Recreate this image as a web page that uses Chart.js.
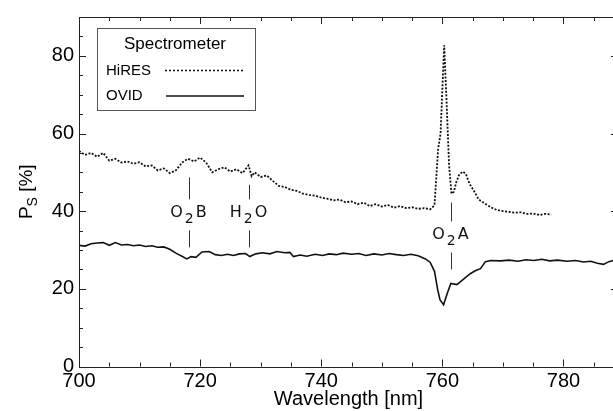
<!DOCTYPE html>
<html>
<head>
<meta charset="utf-8">
<script src="https://cdn.jsdelivr.net/npm/chart.js@4.4.1/dist/chart.umd.min.js"></script>
<style>
html, body { margin: 0; padding: 0; background: #fff; overflow: hidden; }
#wrap { width: 620px; height: 411px; }
</style>
</head>
<body>
<div id="wrap"><canvas id="chart_ps" width="620" height="411"></canvas></div>
<script>
// HiRES spectrometer (dotted)
var hiresWl = [700, 701, 702, 703, 704, 705, 706, 707, 708, 709, 710, 711, 712, 713, 714, 715, 716, 717, 718, 719,
  720, 721, 722, 723, 724, 725, 726, 727, 728, 728.5, 729, 730, 731, 732, 733, 734, 735, 736, 737, 738, 739,
  740, 741, 742, 743, 744, 745, 746, 747, 748, 749, 750, 751, 752, 753, 754, 755, 756, 757, 758, 758.7,
  759.3, 759.7, 760.3, 760.7, 761.1, 761.5, 761.9, 762.3, 762.8, 763.4, 763.9, 764.5, 765.3, 766, 767, 768,
  769, 770, 771, 772, 773, 774, 775, 776, 777, 778];
var hiresPs = [55.5, 54.5, 55, 54, 55, 53, 53.5, 52.5, 52.8, 52.2, 52.6, 51.5, 51.8, 50.5, 51, 49.8, 50.5, 52.5, 53.5, 52.8,
  53.8, 52.5, 50, 50.8, 51.3, 50.2, 50.8, 49.8, 51.8, 49, 50, 48.8, 49.2, 47.8, 46.5, 46.2, 45.5, 45.2, 44.5, 44.2, 44,
  43.5, 43.2, 42.8, 43, 42.3, 42.5, 41.8, 42.2, 41.3, 41.8, 41.2, 41.6, 40.9, 41.3, 40.8, 41, 40.6, 40.8, 40.5, 41.5,
  56, 60, 82.7, 68, 52, 44.5, 45, 47.5, 49.5, 50.2, 49.5, 47, 45, 43, 42, 41,
  40.3, 40, 39.8, 39.6, 39.7, 39.3, 39.4, 39, 39.3, 39.1];

// OVID spectrometer (solid)
var ovidWl = [700, 701, 702, 703, 704, 705, 706, 707, 708, 709, 710, 711, 712, 713, 714, 715, 716, 717, 717.8, 718.5,
  719.3, 720.3, 721.5, 722.5, 723.5, 724.5, 725.5, 726.5, 727.5, 728.2, 729.2, 730.3, 731.5, 732.7, 734, 734.8,
  735.4, 736.5, 737.6, 739, 740.2, 741.3, 742.5, 743.6, 745, 746.2, 747.4, 748.7, 750, 751.2, 752.4, 753.6,
  754.8, 756, 757.2, 758, 758.7, 759.2, 759.6, 760.2, 760.8, 761.4, 762.4, 763.5, 764.6, 765.5, 766.3, 767.1,
  768, 769.6, 771, 772.5, 773.8, 775.1, 776.4, 777.7, 779, 780.6, 782, 783.3, 784.5, 785.6, 786.6, 787.5, 788.5, 789.5];
var ovidPs = [31.2, 31, 31.6, 31.8, 31.9, 31.2, 31.9, 31.3, 31.4, 31.1, 31.3, 30.9, 31.1, 30.7, 30.8, 30.2, 29.2, 28.4, 27.7, 28.3,
  28.1, 29.5, 29.6, 28.8, 28.6, 28.9, 28.6, 29, 29.1, 28.3, 29, 29.3, 29, 29.6, 29.3, 29.4,
  28.3, 28.7, 28.4, 28.9, 28.6, 29, 28.8, 29.2, 28.9, 29.1, 28.6, 29, 28.7, 29.1, 28.8, 28.6,
  28.9, 28.5, 27.7, 26.8, 24.5, 20, 17.2, 15.9, 18.8, 21.4, 21.1, 22.5, 23.9, 24.7, 25.2, 27,
  27.3, 27.2, 27.4, 27.1, 27.5, 27.3, 27.6, 27.2, 27.4, 27.1, 27.3, 26.9, 27.1, 26.6, 26.3, 27, 27.4, 27.2];

var xTicks = [700, 720, 740, 760, 780];
var yTicks = [0, 20, 40, 60, 80];

// absorption bands: label pieces [main, subscript, tail], wavelength, top of marker (P_S %)
var bandParts = [['O', '2', 'B'], ['H', '2', 'O'], ['O', '2', 'A']];
var bandWl = [718.2, 728.1, 761.5];
var bandTop = [48.7, 46.8, 42.2];
var bandLabelY = [39.7, 39.7, 34.0];

function toPoints(xs, ys) {
  return xs.map(function (v, i) { return {x: v, y: ys[i]}; });
}

var framePlugin = {
  id: 'framePlugin',
  afterDraw: function (chart) {
    var ctx = chart.ctx, a = chart.chartArea, xs = chart.scales.x, ys = chart.scales.y;
    ctx.save();
    ctx.strokeStyle = '#222';
    ctx.lineWidth = 1;
    ctx.strokeRect(Math.round(a.left) + 0.5, Math.round(a.top) + 0.5, a.right - a.left, Math.round(a.bottom) - Math.round(a.top));
    ctx.beginPath();
    for (var v = 700; v <= 789; v += 5) {
      var px = Math.round(xs.getPixelForValue(v)) + 0.5;
      var len = v % 20 === 0 ? 7 : 4;
      ctx.moveTo(px, a.bottom); ctx.lineTo(px, a.bottom - len);
      ctx.moveTo(px, a.top); ctx.lineTo(px, a.top + len);
    }
    for (var w = 0; w <= 90; w += 5) {
      var py = Math.round(ys.getPixelForValue(w)) + 0.5;
      var l2 = w % 20 === 0 ? 7 : 4;
      ctx.moveTo(a.left, py); ctx.lineTo(a.left + l2, py);
      ctx.moveTo(a.right, py); ctx.lineTo(a.right - l2, py);
    }
    ctx.stroke();

    // y axis title P_S [%]
    ctx.fillStyle = '#000';
    ctx.translate(32, (a.top + a.bottom) / 2);
    ctx.rotate(-Math.PI / 2);
    ctx.textBaseline = 'alphabetic';
    ctx.font = '19px "Liberation Sans", Arial, sans-serif';
    var wP = ctx.measureText('P').width;
    var wR = ctx.measureText(' [%]').width;
    ctx.font = '14px "Liberation Sans", Arial, sans-serif';
    var wS = ctx.measureText('S').width;
    var x0 = -(wP + wS + wR) / 2;
    ctx.font = '19px "Liberation Sans", Arial, sans-serif';
    ctx.fillText('P', x0, 0);
    ctx.fillText(' [%]', x0 + wP + wS, 0);
    ctx.font = '14px "Liberation Sans", Arial, sans-serif';
    ctx.fillText('S', x0 + wP, 5);
    ctx.setTransform(1, 0, 0, 1, 0, 0);

    // band markers
    ctx.strokeStyle = '#333';
    ctx.lineWidth = 1;
    bandWl.forEach(function (wl, i) {
      var px = Math.round(xs.getPixelForValue(wl)) + 0.5;
      var ly = ys.getPixelForValue(bandLabelY[i]);
      ctx.beginPath();
      ctx.moveTo(px, ys.getPixelForValue(bandTop[i]));
      ctx.lineTo(px, ly - 13);
      ctx.moveTo(px, ly + 18);
      ctx.lineTo(px, ly + 35);
      ctx.stroke();
      var p = bandParts[i];
      ctx.font = '16px "DejaVu Sans", sans-serif';
      var w1 = ctx.measureText(p[0]).width, w3 = ctx.measureText(p[2]).width;
      ctx.font = '14px "DejaVu Sans", sans-serif';
      var w2 = ctx.measureText(p[1]).width;
      var gap = 2;
      var tx = px - (w1 + w2 + w3 + 2 * gap) / 2 - 1;
      ctx.textBaseline = 'alphabetic';
      ctx.fillStyle = '#111';
      ctx.font = '16px "DejaVu Sans", sans-serif';
      ctx.fillText(p[0], tx, ly + 5);
      ctx.fillText(p[2], tx + w1 + w2 + 2 * gap, ly + 5);
      ctx.font = '14px "DejaVu Sans", sans-serif';
      ctx.fillText(p[1], tx + w1 + gap, ly + 11);
    });

    // legend box
    ctx.strokeStyle = '#555';
    ctx.fillStyle = '#fff';
    ctx.fillRect(97, 28, 158, 82);
    ctx.strokeRect(97.5, 28.5, 158, 82);
    ctx.fillStyle = '#000';
    ctx.textBaseline = 'middle';
    ctx.textAlign = 'center';
    ctx.font = '17px "Liberation Sans", Arial, sans-serif';
    ctx.fillText('Spectrometer', 175, 44);
    ctx.textAlign = 'left';
    ctx.font = '15px "Liberation Sans", Arial, sans-serif';
    ctx.fillText('HiRES', 106, 71);
    ctx.fillText('OVID', 106, 96);
    ctx.strokeStyle = '#111';
    ctx.lineWidth = 1.6;
    ctx.setLineDash([2, 2]);
    ctx.beginPath(); ctx.moveTo(165, 70.5); ctx.lineTo(244, 70.5); ctx.stroke();
    ctx.setLineDash([]);
    ctx.beginPath(); ctx.moveTo(166, 96); ctx.lineTo(244, 96); ctx.stroke();
    ctx.restore();
  }
};

var chart_ps = new Chart(document.getElementById('chart_ps'), {
  type: 'line',
  data: {
    datasets: [
      {
        label: 'HiRES',
        data: toPoints(hiresWl, hiresPs),
        borderColor: '#111',
        borderWidth: 1.8,
        borderDash: [2, 1.6],
        pointRadius: 0,
        tension: 0
      },
      {
        label: 'OVID',
        data: toPoints(ovidWl, ovidPs),
        borderColor: '#111',
        borderWidth: 1.6,
        pointRadius: 0,
        tension: 0
      }
    ]
  },
  options: {
    animation: false,
    responsive: false,
    layout: { padding: { left: 0, top: 9, right: 2, bottom: 0 } },
    plugins: {
      legend: { display: false },
      tooltip: { enabled: false }
    },
    scales: {
      x: {
        type: 'linear',
        min: 700,
        max: 789,
        afterBuildTicks: function (s) { s.ticks = xTicks.map(function (v) { return {value: v}; }); },
        afterFit: function (s) { s.height = 44.5; },
        grid: { display: false, drawTicks: false },
        border: { display: false },
        ticks: {
          color: '#000',
          padding: 3,
          maxRotation: 0,
          font: { family: '"Liberation Sans", Arial, sans-serif', size: 20 }
        },
        title: {
          display: true,
          text: 'Wavelength [nm]',
          color: '#000',
          padding: { top: 0, bottom: 0 },
          font: { family: '"Liberation Sans", Arial, sans-serif', size: 20 }
        }
      },
      y: {
        type: 'linear',
        min: 0,
        max: 90,
        afterBuildTicks: function (s) { s.ticks = yTicks.map(function (v) { return {value: v}; }); },
        afterFit: function (s) { s.width = 79; },
        grid: { display: false, drawTicks: false },
        border: { display: false },
        ticks: {
          color: '#000',
          padding: 5,
          font: { family: '"Liberation Sans", Arial, sans-serif', size: 20 }
        }
      }
    }
  },
  plugins: [framePlugin]
});
</script>
</body>
</html>
